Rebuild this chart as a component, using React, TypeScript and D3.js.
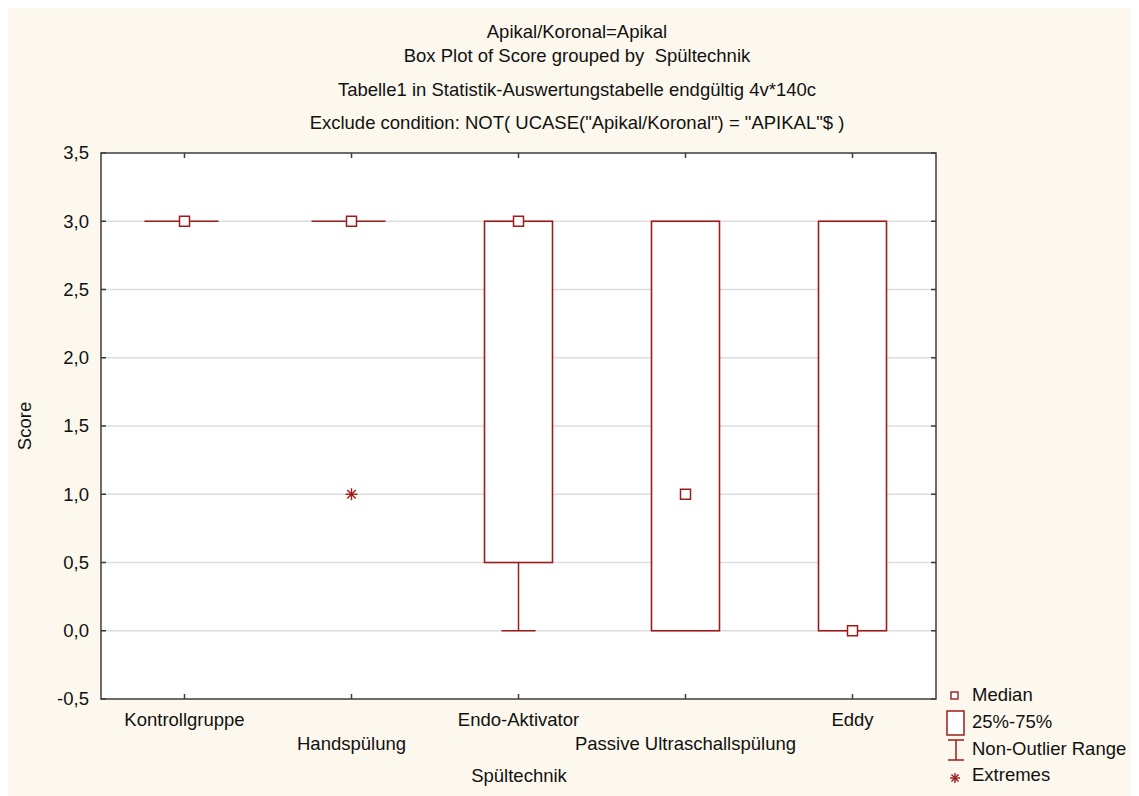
import React, { useEffect, useRef } from "react";
import * as d3 from "d3";

// groups and five-number summaries
const groups = ["Kontrollgruppe", "Handspülung", "Endo-Aktivator", "Passive Ultraschallspülung", "Eddy"];
const medians = [3, 3, 3, 1, 0];
const q1 = [3, 3, 0.5, 0, 0];
const q3 = [3, 3, 3, 3, 3];
const whiskerLow = [3, 3, 0, 0, 0];
const whiskerHigh = [3, 3, 3, 3, 3];
const extremes = [[], [1], [], [], []] as number[][];
const yTicks = [-0.5, 0, 0.5, 1, 1.5, 2, 2.5, 3, 3.5];

const titles = [
  "Apikal/Koronal=Apikal",
  "Box Plot of Score grouped by  Spültechnik",
  "Tabelle1 in Statistik-Auswertungstabelle endgültig 4v*140c",
  "Exclude condition: NOT( UCASE(\"Apikal/Koronal\") = \"APIKAL\"$ )",
];
const legendItems = ["Median", "25%-75%", "Non-Outlier Range", "Extremes"];

const W = 1139;
const H = 796;
const RED = "#9e1b1b";
const FONT = "'Liberation Sans', Arial, sans-serif";
const FS = 18.5;

function asterisk(g: any, x: number, y: number, r: number) {
  for (let a = 0; a < 4; a++) {
    const ang = (a * Math.PI) / 4;
    g.append("line")
      .attr("x1", x - r * Math.cos(ang)).attr("y1", y - r * Math.sin(ang))
      .attr("x2", x + r * Math.cos(ang)).attr("y2", y + r * Math.sin(ang))
      .attr("stroke", RED).attr("stroke-width", 1.4);
  }
}

export default function App() {
  const ref = useRef<SVGSVGElement>(null);

  useEffect(() => {
    const svg = d3.select(ref.current);
    svg.selectAll("*").remove();
    // page coordinates (body has 8px margin)
    const root = svg.append("g").attr("transform", "translate(-8,-8)");

    root.append("rect").attr("x", 8).attr("y", 8).attr("width", W - 8).attr("height", H - 8).attr("fill", "#fdf8ed");

    const margin = { left: 101, right: 936, top: 153, bottom: 699 };

    const x = d3.scaleBand().domain(groups).range([margin.left, margin.right]).padding(0);
    const y = d3.scaleLinear().domain([-0.5, 3.5]).range([margin.bottom, margin.top]);

    // titles
    const titleY = [32, 56, 90, 123];
    titles.forEach((t, i) => {
      root.append("text")
        .attr("x", 577).attr("y", titleY[i])
        .attr("dy", "0.35em")
        .attr("text-anchor", "middle")
        .attr("font-family", FONT).attr("font-size", FS)
        .attr("fill", "#111")
        .style("white-space", "pre")
        .text(t);
    });

    // plot area
    root.append("rect")
      .attr("x", margin.left).attr("y", margin.top)
      .attr("width", margin.right - margin.left).attr("height", margin.bottom - margin.top)
      .attr("fill", "#fff");

    // grid
    root.append("g").selectAll("line")
      .data(yTicks.filter(d => d > -0.5 && d < 3.5))
      .enter().append("line")
      .attr("x1", margin.left).attr("x2", margin.right)
      .attr("y1", d => y(d)).attr("y2", d => y(d))
      .attr("stroke", "#dedede").attr("stroke-width", 1.5);

    // boxes
    const bw = 68;
    const plot = root.append("g");
    groups.forEach((gname, i) => {
      const cx = (x(gname) as number) + x.bandwidth() / 2;
      // whisker below box
      if (whiskerLow[i] < q1[i]) {
        plot.append("line").attr("x1", cx).attr("x2", cx)
          .attr("y1", y(q1[i])).attr("y2", y(whiskerLow[i]))
          .attr("stroke", RED).attr("stroke-width", 1.5);
        plot.append("line").attr("x1", cx - bw / 4).attr("x2", cx + bw / 4)
          .attr("y1", y(whiskerLow[i])).attr("y2", y(whiskerLow[i]))
          .attr("stroke", RED).attr("stroke-width", 1.5);
      }
      if (whiskerHigh[i] > q3[i]) {
        plot.append("line").attr("x1", cx).attr("x2", cx)
          .attr("y1", y(q3[i])).attr("y2", y(whiskerHigh[i]))
          .attr("stroke", RED).attr("stroke-width", 1.5);
        plot.append("line").attr("x1", cx - bw / 4).attr("x2", cx + bw / 4)
          .attr("y1", y(whiskerHigh[i])).attr("y2", y(whiskerHigh[i]))
          .attr("stroke", RED).attr("stroke-width", 1.5);
      }
      if (q3[i] > q1[i]) {
        plot.append("rect")
          .attr("x", cx - bw / 2).attr("y", y(q3[i]))
          .attr("width", bw).attr("height", y(q1[i]) - y(q3[i]))
          .attr("fill", "#fff").attr("stroke", RED).attr("stroke-width", 1.6);
      } else {
        plot.append("line").attr("x1", cx - bw / 2 - 6).attr("x2", cx + bw / 2)
          .attr("y1", y(q1[i])).attr("y2", y(q1[i]))
          .attr("stroke", RED).attr("stroke-width", 1.6);
      }
      plot.append("rect")
        .attr("x", cx - 5).attr("y", y(medians[i]) - 5)
        .attr("width", 10).attr("height", 10)
        .attr("fill", "#fff").attr("stroke", RED).attr("stroke-width", 1.5);
      extremes[i].forEach(v => asterisk(plot, cx, y(v), 6));
    });

    // frame and ticks
    const frame = root.append("g").attr("stroke", "#3c3c3c").attr("stroke-width", 1.5);
    frame.append("rect")
      .attr("x", margin.left).attr("y", margin.top)
      .attr("width", margin.right - margin.left).attr("height", margin.bottom - margin.top)
      .attr("fill", "none");
    yTicks.forEach(t => {
      frame.append("line").attr("x1", margin.left).attr("x2", margin.left + 5).attr("y1", y(t)).attr("y2", y(t));
      frame.append("line").attr("x1", margin.right - 5).attr("x2", margin.right).attr("y1", y(t)).attr("y2", y(t));
    });
    groups.forEach(gname => {
      const cx = (x(gname) as number) + x.bandwidth() / 2;
      frame.append("line").attr("x1", cx).attr("x2", cx).attr("y1", margin.top).attr("y2", margin.top + 5);
      frame.append("line").attr("x1", cx).attr("x2", cx).attr("y1", margin.bottom - 5).attr("y2", margin.bottom);
    });

    // y tick labels
    const fmt = (d: number) => d.toFixed(1).replace(".", ",");
    root.append("g").selectAll("text")
      .data(yTicks).enter().append("text")
      .attr("x", 89).attr("y", d => y(d))
      .attr("dy", "0.35em").attr("text-anchor", "end")
      .attr("font-family", FONT).attr("font-size", FS).attr("fill", "#111")
      .text(d => fmt(d));

    // x tick labels, staggered
    root.append("g").selectAll("text")
      .data(groups).enter().append("text")
      .attr("x", d => (x(d) as number) + x.bandwidth() / 2)
      .attr("y", (d, i) => (i % 2 === 0 ? 720 : 744))
      .attr("dy", "0.35em").attr("text-anchor", "middle")
      .attr("font-family", FONT).attr("font-size", FS).attr("fill", "#111")
      .text(d => d);

    // axis titles
    root.append("text")
      .attr("x", 519).attr("y", 776).attr("dy", "0.35em")
      .attr("text-anchor", "middle")
      .attr("font-family", FONT).attr("font-size", FS).attr("fill", "#111")
      .text("Spültechnik");
    root.append("text")
      .attr("transform", "translate(25,426) rotate(-90)")
      .attr("dy", "0.35em").attr("text-anchor", "middle")
      .attr("font-family", FONT).attr("font-size", FS).attr("fill", "#111")
      .text("Score");

    // legend
    const lg = root.append("g");
    const ly = [695, 722, 749, 775];
    lg.append("rect").attr("x", 951).attr("y", ly[0] - 3).attr("width", 7).attr("height", 7)
      .attr("fill", "#fff").attr("stroke", RED).attr("stroke-width", 1.4);
    lg.append("rect").attr("x", 947).attr("y", 711).attr("width", 17).attr("height", 24)
      .attr("fill", "#fff").attr("stroke", RED).attr("stroke-width", 1.5);
    lg.append("line").attr("x1", 948).attr("x2", 964).attr("y1", 740).attr("y2", 740).attr("stroke", RED).attr("stroke-width", 1.5);
    lg.append("line").attr("x1", 956).attr("x2", 956).attr("y1", 740).attr("y2", 760).attr("stroke", RED).attr("stroke-width", 1.5);
    lg.append("line").attr("x1", 948).attr("x2", 964).attr("y1", 760).attr("y2", 760).attr("stroke", RED).attr("stroke-width", 1.5);
    asterisk(lg, 955, 778, 5);
    lg.selectAll("text").data(legendItems).enter().append("text")
      .attr("x", 972).attr("y", (d, i) => ly[i]).attr("dy", "0.35em")
      .attr("font-family", FONT).attr("font-size", FS).attr("fill", "#111")
      .text(d => d);
  }, []);

  return <svg ref={ref} width={W - 8} height={H - 8} style={{ display: "block" }} />;
}
